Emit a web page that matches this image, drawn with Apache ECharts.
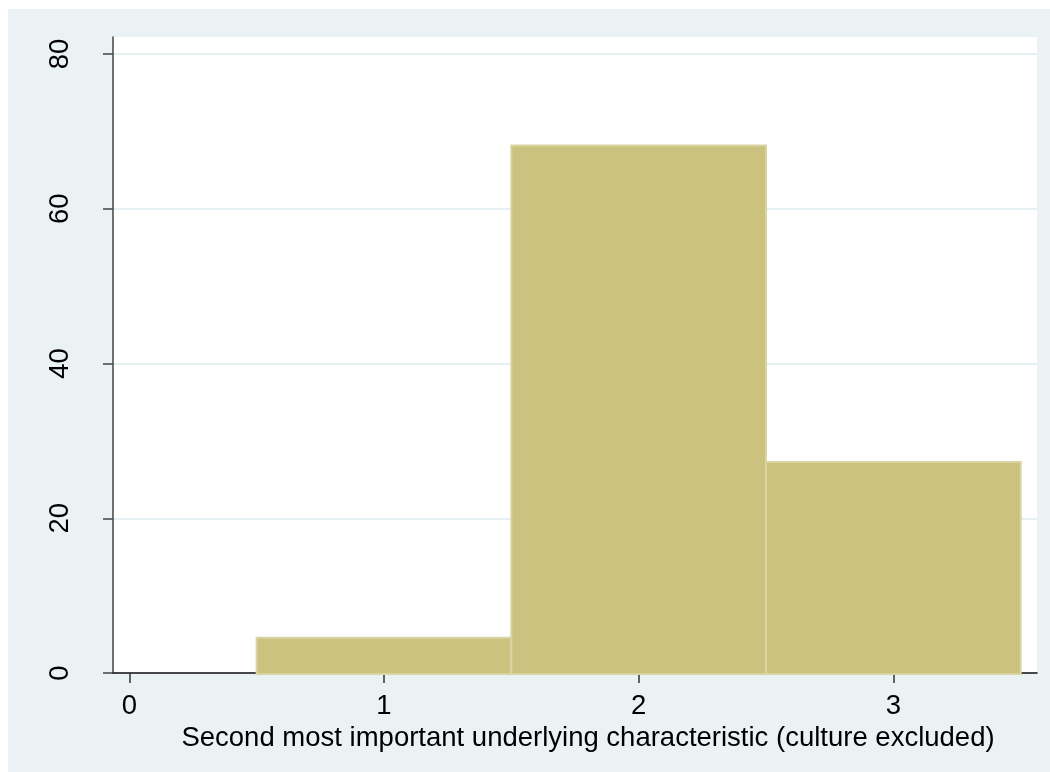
<!DOCTYPE html>
<html>
<head>
<meta charset="utf-8">
<script src="https://cdn.jsdelivr.net/npm/echarts@6/dist/echarts.min.js"></script>
<style>
  html, body { margin: 0; padding: 0; background: #ffffff; }
  #chart { width: 1050px; height: 772px; }
</style>
</head>
<body>
<div id="chart"></div>
<script>
// Histogram bins (value of the variable, width 1) and percent heights
const binStarts = [0.5, 1.5, 2.5];
const binEnds = [1.5, 2.5, 3.5];
const percents = [4.545, 68.18, 27.27];
const xTicks = [0, 1, 2, 3];
const yTicks = [0, 20, 40, 60, 80];
const xTitle = 'Second most important underlying characteristic (culture excluded)';

const data = binStarts.map((s, i) => [s, binEnds[i], percents[i]]);

const chart = echarts.init(document.getElementById('chart'), null, { renderer: 'canvas' });
const font = 'Liberation Sans, Arial, Helvetica, sans-serif';

chart.setOption({
  animation: false,
  backgroundColor: '#ffffff',
  graphic: [{
    type: 'rect', left: 8, top: 9, z: -10, silent: true,
    shape: { width: 1042, height: 763 },
    style: { fill: '#EAF2F3' }
  }],
  grid: {
    left: 113, top: 37, right: 13, bottom: 99,
    show: true, backgroundColor: '#ffffff', borderWidth: 0
  },
  xAxis: {
    type: 'value',
    min: -0.064, max: 3.564,
    name: xTitle,
    nameLocation: 'middle',
    nameGap: 44,
    nameTextStyle: { fontFamily: font, fontSize: 27.5, color: '#000', padding: [0, 0, 0, 26] },
    axisLine: { show: true, onZero: false, lineStyle: { color: '#111', width: 1.5 } },
    axisTick: { show: true, length: 10, customValues: xTicks, lineStyle: { color: '#333', width: 1.5 } },
    axisLabel: { customValues: xTicks, fontFamily: font, fontSize: 27.5, color: '#000', margin: 19 },
    splitLine: { show: false }
  },
  yAxis: {
    type: 'value',
    min: 0, max: 82.2,
    axisLine: { show: true, onZero: false, lineStyle: { color: '#444', width: 1.5 } },
    axisTick: { show: true, length: 10, customValues: yTicks, lineStyle: { color: '#444', width: 1.5 } },
    axisLabel: { customValues: yTicks, rotate: 90, fontFamily: font, fontSize: 27.5, color: '#000', margin: 39 },
    splitLine: { show: true, lineStyle: { color: '#E6EFF1', width: 2 } }
  },
  series: [{
    type: 'custom',
    data: data,
    encode: { x: [0, 1], y: 2 },
    renderItem: function (params, api) {
      const x0 = api.value(0), x1 = api.value(1), h = api.value(2);
      const p0 = api.coord([x0, h]);
      const p1 = api.coord([x1, 0]);
      return {
        type: 'rect',
        shape: { x: p0[0], y: p0[1], width: p1[0] - p0[0], height: p1[1] - p0[1] + 1 },
        style: { fill: '#CBC27F', stroke: '#D9D4A2', lineWidth: 2 }
      };
    }
  }]
});
</script>
</body>
</html>
